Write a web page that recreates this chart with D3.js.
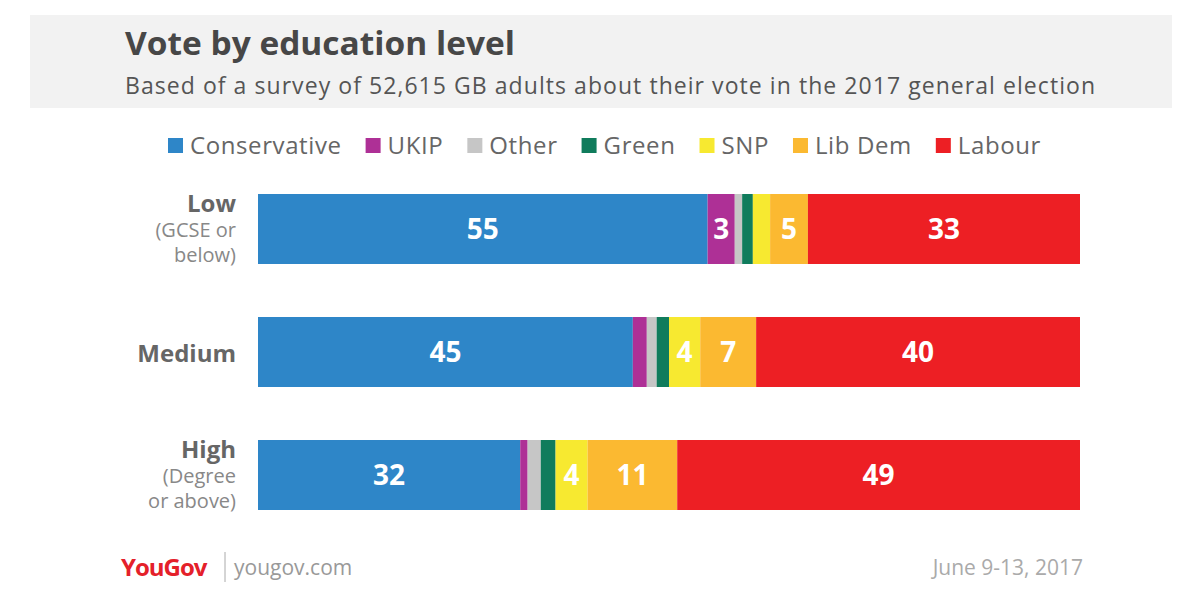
<!DOCTYPE html>
<head>
  <meta charset="utf-8">
  <script src="https://d3js.org/d3.v7.min.js"></script>
  <style>
    body { margin: 0; background: #fff; }
    text { font-family: "Open Sans", sans-serif; }
  </style>
</head>
<body>
  <script>
    var parties = ["Conservative", "UKIP", "Other", "Green", "SNP", "Lib Dem", "Labour"];
    var colors = ["#2e86c8", "#ae3096", "#c6c6c6", "#107c5c", "#f7e930", "#fbb931", "#ed1f24"];
    var groups = ["Low", "Medium", "High"];
    var subLabels = [["(GCSE or", "below)"], [], ["(Degree", "or above)"]];
    var lowVals = [54.7, 3.3, 0.9, 1.3, 2.1, 4.6, 33.1];
    var medVals = [45.6, 1.7, 1.2, 1.5, 3.8, 6.8, 39.4];
    var highVals = [31.9, 0.9, 1.6, 1.8, 3.9, 10.9, 49.0];
    var lowLabels = ["55", "3", "", "", "", "5", "33"];
    var medLabels = ["45", "", "", "", "4", "7", "40"];
    var highLabels = ["32", "", "", "", "4", "11", "49"];
    var values = [lowVals, medVals, highVals];
    var labels = [lowLabels, medLabels, highLabels];

    var svg = d3.select("body").append("svg").attr("width", 1200).attr("height", 612);

    svg.append("rect").attr("x", 30).attr("y", 15).attr("width", 1142).attr("height", 93).attr("fill", "#f2f2f2");
    svg.append("text").attr("x", 125).attr("y", 55).attr("font-size", 32).attr("font-weight", 700)
      .attr("fill", "#474747").attr("textLength", 390).attr("lengthAdjust", "spacingAndGlyphs")
      .text("Vote by education level");
    svg.append("text").attr("x", 125).attr("y", 94).attr("font-size", 23).attr("fill", "#555")
      .attr("textLength", 970).attr("lengthAdjust", "spacing")
      .text("Based of a survey of 52,615 GB adults about their vote in the 2017 general election");

    // legend
    var lx = 168;
    var legend = svg.append("g");
    parties.forEach(function(p, i) {
      legend.append("rect").attr("x", lx).attr("y", 138).attr("width", 15).attr("height", 15).attr("fill", colors[i]);
      var t = legend.append("text").attr("x", lx + 22).attr("y", 154).attr("font-size", 24)
        .attr("letter-spacing", 0.6).attr("fill", "#666").text(p);
      lx += 22 + t.node().getComputedTextLength() + 24;
    });

    var x = d3.scaleLinear().domain([0, 100]).range([258, 1080]);
    var y = d3.scaleBand().domain(groups).range([194, 510]).paddingInner(0.431);

    groups.forEach(function(g, gi) {
      var vals = values[gi];
      var total = d3.sum(vals);
      x.domain([0, total]);
      var starts = d3.cumsum([0].concat(vals));
      var row = svg.append("g");
      row.selectAll("rect").data(vals).enter().append("rect")
        .attr("x", function(d, i) { return x(starts[i]); })
        .attr("y", y(g))
        .attr("width", function(d) { return x(d) - x(0); })
        .attr("height", y.bandwidth())
        .attr("fill", function(d, i) { return colors[i]; });
      row.selectAll("text.v").data(vals).enter().append("text").attr("class", "v")
        .attr("x", function(d, i) { return x(starts[i] + d / 2); })
        .attr("y", y(g) + y.bandwidth() / 2 + 10)
        .attr("text-anchor", "middle").attr("font-size", 28).attr("font-weight", 700).attr("fill", "#fff")
        .text(function(d, i) { return labels[gi][i]; });

      var cy = y(g) + y.bandwidth() / 2;
      var subs = subLabels[gi];
      var top = subs.length ? y(g) + 17 : cy + 9;
      svg.append("text").attr("x", 236).attr("y", top + 1).attr("text-anchor", "end")
        .attr("font-size", 24).attr("font-weight", 700).attr("fill", "#666").text(g);
      subs.forEach(function(s, si) {
        svg.append("text").attr("x", 236).attr("y", top + 26 + si * 25).attr("text-anchor", "end")
          .attr("font-size", 20).attr("fill", "#888").text(s);
      });
    });

    // footer
    svg.append("text").attr("x", 121).attr("y", 576).attr("font-size", 24).attr("font-weight", 700)
      .attr("fill", "#e4202a").attr("letter-spacing", -1).text("YouGov");
    svg.append("line").attr("x1", 225).attr("x2", 225).attr("y1", 552).attr("y2", 582).attr("stroke", "#aaa");
    svg.append("text").attr("x", 234).attr("y", 575).attr("font-size", 21).attr("fill", "#999").text("yougov.com");
    svg.append("text").attr("x", 1083).attr("y", 575).attr("text-anchor", "end").attr("font-size", 21)
      .attr("fill", "#aaa").text("June 9-13, 2017");
  </script>
</body>
